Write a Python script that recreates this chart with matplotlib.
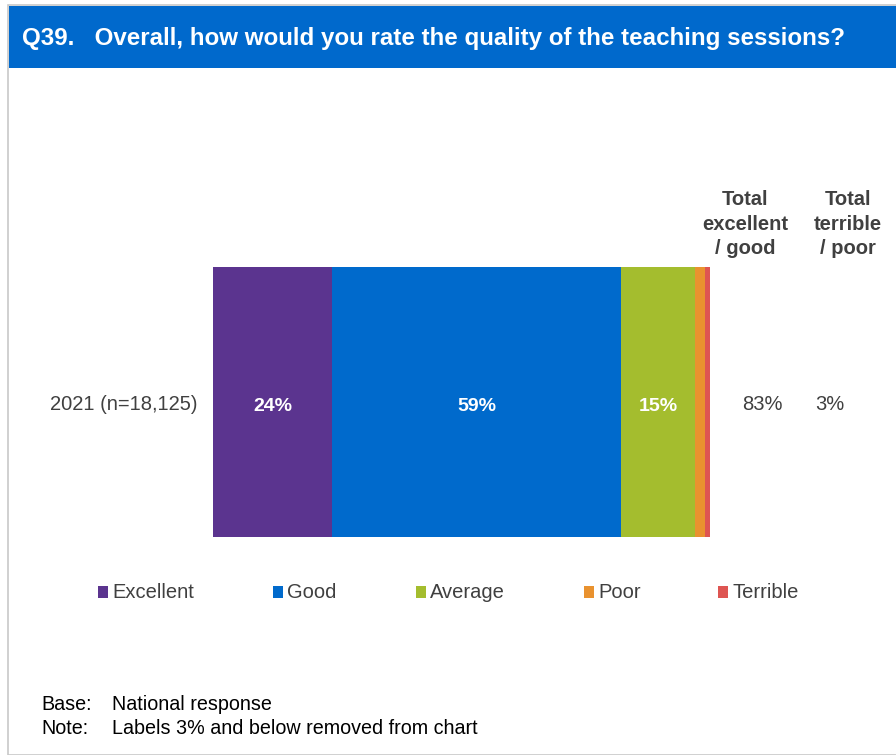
import matplotlib.pyplot as plt
from matplotlib.patches import Rectangle

plt.rcParams['font.family'] = ['Liberation Sans', 'DejaVu Sans']

categories = ['Excellent', 'Good', 'Average', 'Poor', 'Terrible']
values = [24.0, 58.1, 14.9, 2.0, 1.0]
labels = ['24%', '59%', '15%', '', '']
colors = ['#5B348F', '#006ACC', '#A4BD2E', '#E9922F', '#DE5552']
row_label = '2021 (n=18,125)'
total_good = '83%'
total_poor = '3%'

W, H = 896, 755
fig = plt.figure(figsize=(W / 100, H / 100), dpi=100)
txt = '#404040'

# frame and title banner
fig.patches.append(Rectangle((8 / W, 0), 1, 1 - 5 / H, transform=fig.transFigure,
                             facecolor='white', edgecolor='#C8C8C8', linewidth=1.2, zorder=-2))
fig.patches.append(Rectangle((9 / W, 1 - 68 / H), 1, 62 / H, transform=fig.transFigure,
                             facecolor='#0069CC', edgecolor='none', zorder=-1))
fig.text(22 / W, 1 - 38 / H, 'Q39.   Overall, how would you rate the quality of the teaching sessions?',
         color='white', fontsize=17.4, fontweight='bold', va='center', ha='left')

# stacked bar
ax = fig.add_axes([213 / W, 1 - 537 / H, 497 / W, 270 / H])
ax.patch.set_alpha(0)
left = 0
for cat, v, lab, c in zip(categories, values, labels, colors):
    ax.barh(0, v, left=left, height=1, color=c, label=cat)
    if lab:
        ax.text(left + v / 2, -0.008, lab, color='white', fontsize=14, fontweight='bold',
                ha='center', va='center_baseline')
    left += v
ax.set_xlim(0, sum(values))
ax.set_ylim(-0.5, 0.5)
ax.axis('off')

fig.text(197 / W, 1 - 405 / H, row_label, ha='right', va='center', fontsize=14.5, color=txt)
fig.text(762 / W, 1 - 405 / H, total_good, ha='center', va='center', fontsize=14.5, color=txt)
fig.text(830 / W, 1 - 405 / H, total_poor, ha='center', va='center', fontsize=14.5, color=txt)
fig.text(745 / W, 1 - 224 / H, 'Total\nexcellent\n/ good', ha='center', va='center',
         fontsize=14.5, fontweight='bold', color=txt, linespacing=1.35)
fig.text(848 / W, 1 - 224 / H, 'Total\nterrible\n/ poor', ha='center', va='center',
         fontsize=14.5, fontweight='bold', color=txt, linespacing=1.35)

# legend
leg_x = [98, 273, 416, 584, 718]
for x, cat, c in zip(leg_x, categories, colors):
    fig.patches.append(Rectangle((x / W, 1 - 598 / H), 10 / W, 12 / H,
                                 transform=fig.transFigure, facecolor=c, edgecolor='none'))
    fig.text((x + 14) / W, 1 - 593 / H, cat, ha='left', va='center', fontsize=14.5, color=txt)

# footer
fig.text(41 / W, 1 - 705 / H, 'Base:', ha='left', va='center', fontsize=14.2, color='black')
fig.text(112 / W, 1 - 705 / H, 'National response', ha='left', va='center', fontsize=14.2, color='black')
fig.text(41 / W, 1 - 728 / H, 'Note:', ha='left', va='center', fontsize=14.2, color='black')
fig.text(112 / W, 1 - 728 / H, 'Labels 3% and below removed from chart', ha='left', va='center',
         fontsize=14.2, color='black')

fig.savefig('out.png', dpi=100)
